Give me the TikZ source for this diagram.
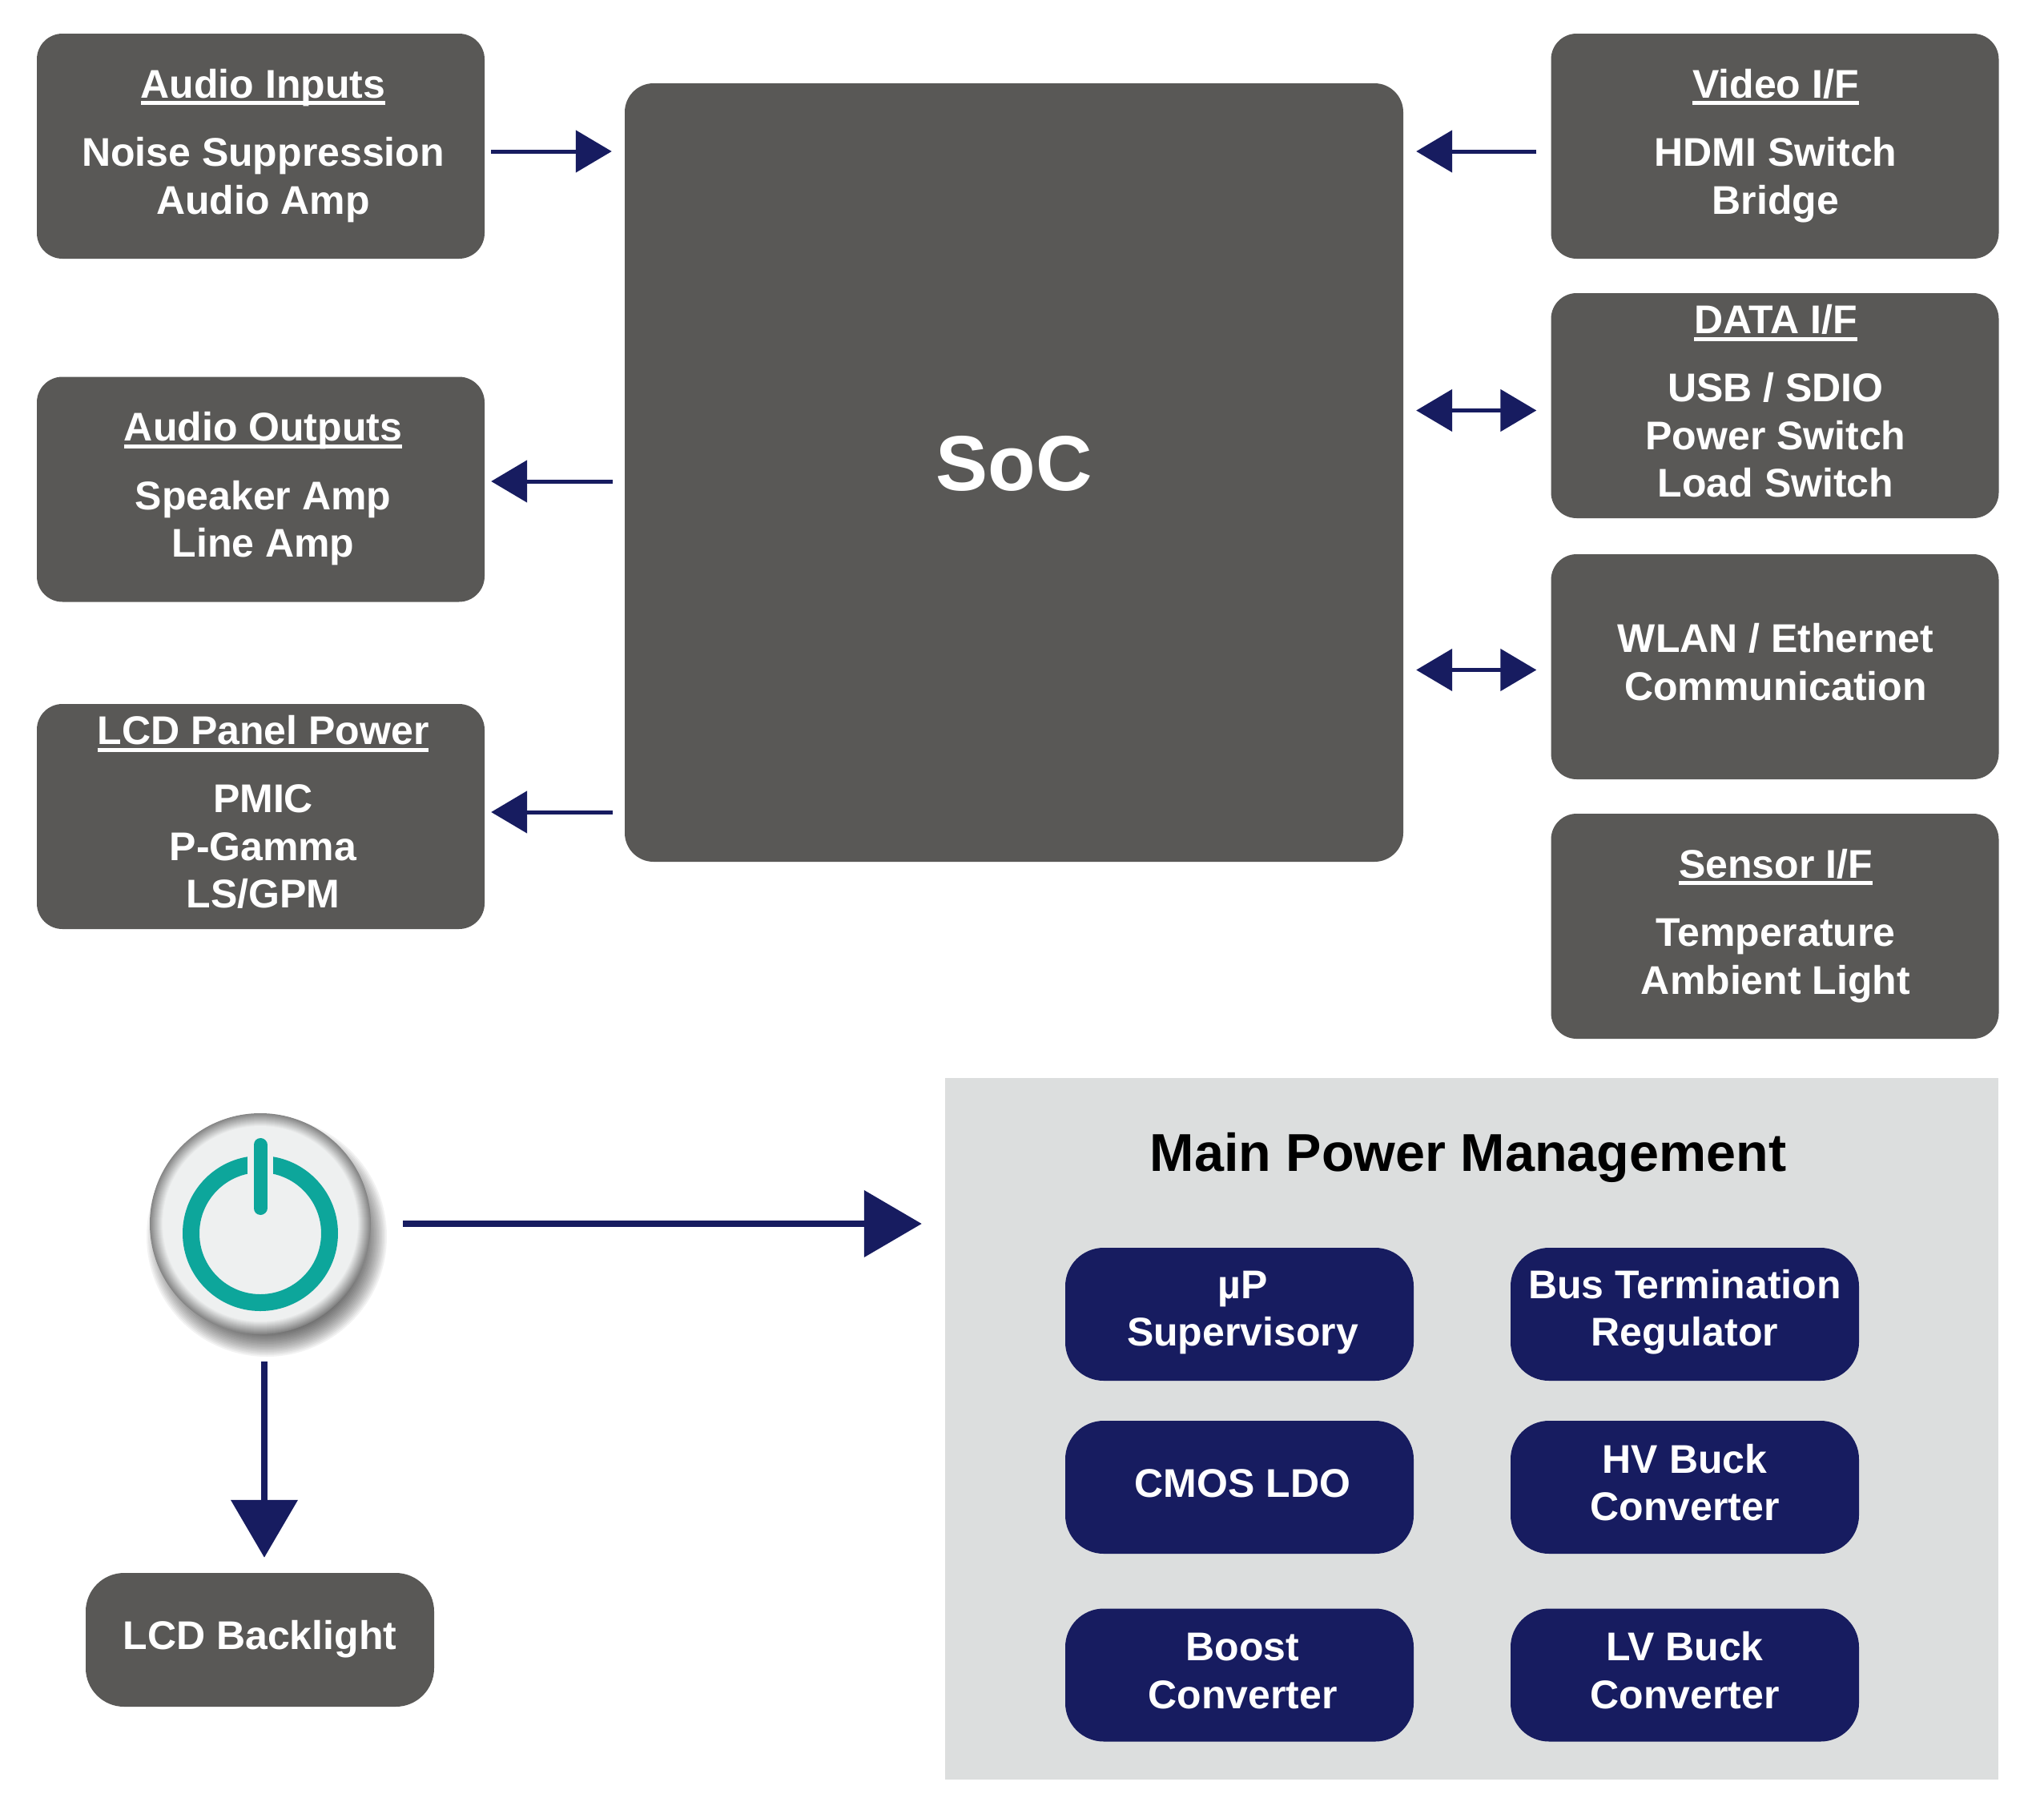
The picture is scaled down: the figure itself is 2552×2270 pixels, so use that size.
\documentclass[tikz,border=0pt]{standalone}
\usepackage{fontspec}
\setmainfont{Liberation Sans}
\usetikzlibrary{arrows.meta,calc}
\definecolor{boxgrey}{HTML}{595856}
\definecolor{navy}{HTML}{171C60}
\definecolor{pmgrey}{HTML}{DCDEDE}
\definecolor{teal}{HTML}{0DA69B}
\definecolor{panel}{HTML}{EEF0F0}
\definecolor{rim}{HTML}{858585}
\newsavebox\ulsave
\newcommand\ulin[1]{\sbox\ulsave{#1}\usebox\ulsave\llap{\rule[-9pt]{\wd\ulsave}{5pt}}}
\newcommand\blk[2][-6.5pt]{\raisebox{#1}[0pt][0pt]{\begin{tabular}[c]{@{}c@{}}#2\end{tabular}}}
\tikzset{
  bodyfont/.style={font=\bfseries\fontsize{50}{59.4}\selectfont},
  anybox/.style={rectangle,inner sep=0pt,text=white,bodyfont},
  gbox/.style={anybox,fill=boxgrey,rounded corners=32pt,minimum width=559pt,minimum height=281pt},
  pill/.style={anybox,fill=navy,rounded corners=48pt,minimum width=435pt,minimum height=166pt},
  blpill/.style={anybox,fill=boxgrey,rounded corners=48pt,minimum width=435pt,minimum height=167pt},
  arr/.style={draw=navy,line width=5pt,{Triangle[length=45pt,width=52pt]}-{Triangle[length=45pt,width=52pt]}},
  arrto/.style={draw=navy,line width=5pt,-{Triangle[length=45pt,width=52pt]}},
  bigarr/.style={draw=navy,line width=8pt,-{Triangle[length=72pt,width=82pt]}},
}
\begin{document}
\begin{tikzpicture}[x=1pt,y=-1pt]
\useasboundingbox (0,0) rectangle (2552,2270);
% SoC
\node[anybox,fill=boxgrey,rounded corners=36pt,minimum width=972pt,minimum height=972pt,
  font=\bfseries\fontsize{97.5}{117}\selectfont] (soc) at (1266,590) {\blk[-5pt]{SoC}};
% left column
\node[gbox] (ai) at (325.5,182.5) {\kern6pt\blk{\ulin{Audio Inputs}\\[26pt]Noise Suppression\\Audio Amp}};
\node[gbox] (ao) at (325.5,611) {\kern6pt\blk{\ulin{Audio Outputs}\\[26pt]Speaker Amp\\Line Amp}};
\node[gbox] (lcd) at (325.5,1019.5) {\kern6pt\blk{\ulin{LCD Panel Power}\\[26pt]PMIC\\P-Gamma\\LS/GPM}};
% right column
\node[gbox] (vid) at (2216,182.5) {\kern2pt\blk{\ulin{Video I/F}\\[26pt]HDMI Switch\\Bridge}};
\node[gbox] (data) at (2216,506.5) {\kern2pt\blk{\ulin{DATA I/F}\\[26pt]USB / SDIO\\Power Switch\\Load Switch}};
\node[gbox] (wlan) at (2216,832.5) {\kern2pt\blk{WLAN / Ethernet\\Communication}};
\node[gbox] (sens) at (2216,1156.5) {\kern2pt\blk{\ulin{Sensor I/F}\\[26pt]Temperature\\Ambient Light}};
% main power management
\node[rectangle,fill=pmgrey,inner sep=0pt,minimum width=1315pt,minimum height=876pt] (pm) at (1837.5,1784) {};
\node[anchor=base,inner sep=0pt,text=black,font=\bfseries\fontsize{66.5}{80}\selectfont] (pmt) at (1833,1462.5) {Main Power Management};
\node[pill] (up) at (1547.5,1641) {\kern8pt\blk[-4.5pt]{µP\\Supervisory}};
\node[pill] (bus) at (2103.5,1641) {\blk[-4.5pt]{Bus Termination\\Regulator}};
\node[pill] (ldo) at (1547.5,1857) {\kern8pt\blk{CMOS LDO}};
\node[pill] (hv) at (2103.5,1857) {\blk{HV Buck\\Converter}};
\node[pill] (boost) at (1547.5,2091.5) {\kern8pt\blk{Boost\\Converter}};
\node[pill] (lv) at (2103.5,2091.5) {\blk{LV Buck\\Converter}};
\node[blpill] (bl) at (324.5,2047.5) {\blk{LCD Backlight}};
% power button: soft shadow, bevelled rim
\foreach \r in {112,114,...,150}{
  \fill[black,opacity=0.05] (333,1544) circle (\r pt);
}
\node[circle,inner sep=0pt,minimum size=276pt,fill=rim] (btn) at (325,1528) {};
\foreach \r in {137,136,...,122}{
  \pgfmathsetmacro\mixp{(\r-122)/16*100}
  \fill[rim!\mixp!panel] (btn.center) circle (\r pt);
}
\fill[teal,even odd rule] (325,1540) circle (97pt) (325,1540) circle (76pt);
\fill[panel] (309,1430) rectangle (341,1480);
\draw[teal,line width=17pt,line cap=round] (325,1429.5) -- (325,1508.5);
% connectors
\draw[arrto,shorten <=8pt,shorten >=16pt] ([yshift=-6.5pt]ai.east) -- ([yshift=-6.5pt]ai.east -| soc.west);
\draw[arrto,shorten <=15pt,shorten >=8pt] ([yshift=10pt]ao.east -| soc.west) -- ([yshift=10pt]ao.east);
\draw[arrto,shorten <=15pt,shorten >=8pt] ([yshift=5.5pt]lcd.east -| soc.west) -- ([yshift=5.5pt]lcd.east);
\draw[arrto,shorten <=18pt,shorten >=16pt] ([yshift=-6.5pt]vid.west) -- ([yshift=-6.5pt]vid.west -| soc.east);
\draw[arr,shorten <=16pt,shorten >=18pt] ([yshift=-6pt]data.west -| soc.east) -- ([yshift=-6pt]data.west);
\draw[arr,shorten <=16pt,shorten >=18pt] ([yshift=-4pt]wlan.west -| soc.east) -- ([yshift=-4pt]wlan.west);
\draw[bigarr,shorten <=40pt,shorten >=29pt] (btn.east) -- (btn.east -| pm.west);
\draw[bigarr,shorten <=34pt,shorten >=19pt] ([xshift=5pt]btn.south) -- ([xshift=5pt]btn.south |- bl.north);
\end{tikzpicture}
\end{document}
